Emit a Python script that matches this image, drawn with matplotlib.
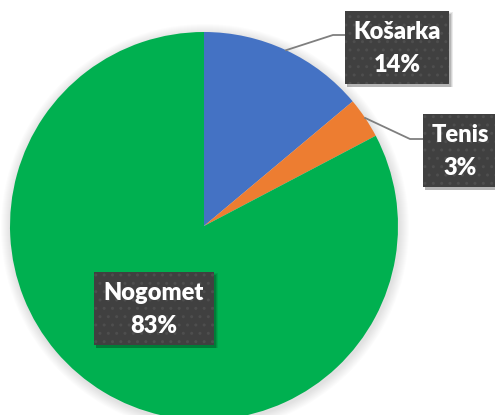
import numpy as np
import matplotlib.pyplot as plt
from matplotlib.patches import Circle, Rectangle

sports = ['Košarka', 'Tenis', 'Nogomet']
shares = [13.9, 3.4, 82.7]
colors = ['#4472C4', '#ED7D31', '#00B050']

W, H = 495, 415
cx, cy, r = 204, H - 226, 194

fig = plt.figure(figsize=(W / 100, H / 100), dpi=100)
ax = fig.add_axes([0, 0, 1, 1])

# soft shadow round the pie
for k in range(10, 0, -1):
    ax.add_patch(Circle((cx + 1, cy - 2), r + k, color='#000000', alpha=0.012, lw=0, zorder=0))

wedges, _ = ax.pie(shares, colors=colors, startangle=90, counterclock=False,
                   center=(cx, cy), radius=r, wedgeprops=dict(lw=0))
for w in wedges:
    w.set_zorder(1)

# label boxes: (left, top, width, height) in pixels
boxes = {
    'Košarka': (345, 11, 104, 73),
    'Tenis': (423, 114, 74, 73),
    'Nogomet': (94, 272, 120, 73),
}
# leader lines: elbow point, box edge
leaders = {
    'Košarka': ((333, 35), (345, 35)),
    'Tenis': ((410, 139), (423, 139)),
}

for w, name, val in zip(wedges, sports, shares):
    left, top, bw, bh = boxes[name]
    y0 = H - top - bh
    # shadow
    for k, a in [(4, 0.08), (3, 0.1), (2, 0.14)]:
        ax.add_patch(Rectangle((left + 2, y0 - 3), bw + k - 2, bh + k - 2, color='black',
                               alpha=a, lw=0, zorder=3))
    ax.add_patch(Rectangle((left, y0), bw, bh, facecolor='#404040', edgecolor='none', zorder=4))
    ax.add_patch(Rectangle((left, y0), bw, bh, facecolor='none', edgecolor='#4e4e4e',
                           hatch='..', lw=0, zorder=4))
    ax.text(left + bw / 2, y0 + bh / 2 - 1, f'{name}\n{val:.0f}%', color='white',
            fontsize=17, fontweight='heavy', family='Lato', ha='center', va='center',
            linespacing=1.6, zorder=5)
    if name in leaders:
        ang = np.deg2rad((w.theta1 + w.theta2) / 2)
        px, py = cx + r * np.cos(ang), cy + r * np.sin(ang)
        (ex, ey), (bx, by) = leaders[name]
        ax.plot([px, ex, bx], [py, H - ey, H - by], color='#7f7f7f', lw=1.3, zorder=2)

ax.set_xlim(0, W)
ax.set_ylim(0, H)
ax.set_aspect('auto')
ax.axis('off')
fig.savefig('out.png', dpi=100)
